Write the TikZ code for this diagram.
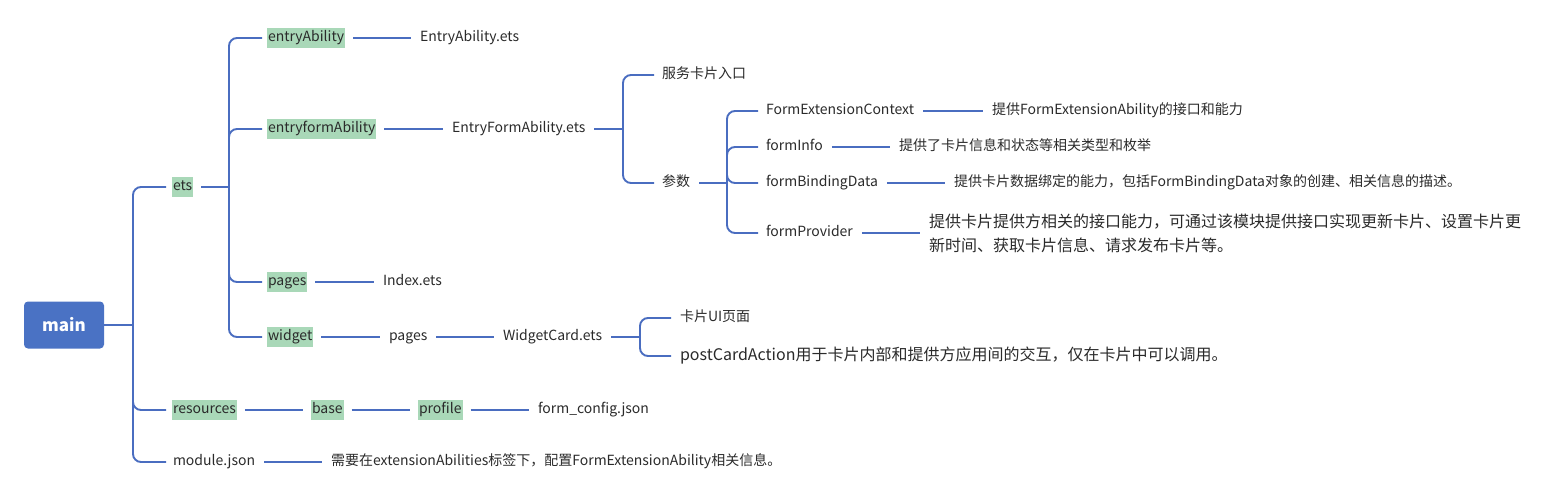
\documentclass[tikz,border=0pt]{standalone}
\usepackage{fontspec}
\setmainfont{Noto Sans CJK SC}
\definecolor{linkblue}{HTML}{4A6DC0}
\definecolor{mainblue}{HTML}{4A72C4}
\definecolor{taggreen}{HTML}{A9D8B8}
\definecolor{textgray}{HTML}{2A2A2A}
\tikzset{
    txt/.style={anchor=west,inner xsep=1pt,inner ysep=2.5pt,outer sep=0pt,text height=11pt,text depth=4pt,text=textgray,font=\fontsize{14}{16}\selectfont},
    tag/.style={txt,fill=taggreen},
    big/.style={txt,text height=,text depth=,font=\fontsize{16}{24}\selectfont},
    link/.style={draw=linkblue,line width=1.9pt,rounded corners=8pt},
    sib/.style={link,shorten <=8pt,shorten >=8pt},
}
\begin{document}
\begin{tikzpicture}[x=1pt,y=-1pt]
        \useasboundingbox (0,0) rectangle (1553,500);
        %% root
        \node[fill=mainblue,rounded corners=4pt,minimum width=80pt,minimum height=47pt,text=white,font=\fontsize{17}{20}\selectfont\bfseries] (main) at (64,325) {main};
        %% first level
        \node[tag] (ets) at (172,187) {ets};
        \node[tag] (resources) at (172,410) {resources};
        \node[txt] (module) at (172,462) {module.json};
        %% ets
        \node[tag] (entryAbility) at (267,38) {entryAbility};
        \node[txt] (entryAbilityEts) at (419,38) {EntryAbility.ets};
        \node[tag] (entryformAbility) at (267,129) {entryformAbility};
        \node[txt] (entryFormEts) at (451,129) {EntryFormAbility.ets};
        \node[tag] (pages) at (267,282) {pages};
        \node[txt] (indexEts) at (382,282) {Index.ets};
        \node[tag] (widget) at (267,337) {widget};
        \node[txt] (widgetPages) at (388,337) {pages};
        \node[txt] (widgetCard) at (502,337) {WidgetCard.ets};
        %% EntryFormAbility.ets
        \node[txt] (cardEntry) at (661,75) {服务卡片入口};
        \node[txt] (params) at (661,183) {参数};
        \node[txt] (formExtCtx) at (765,111) {FormExtensionContext};
        \node[txt] (formExtCtxTxt) at (991,111) {提供FormExtensionAbility的接口和能力};
        \node[txt] (formInfo) at (765,147) {formInfo};
        \node[txt] (formInfoTxt) at (898,147) {提供了卡片信息和状态等相关类型和枚举};
        \node[txt] (formBind) at (765,183) {formBindingData};
        \node[txt] (formBindTxt) at (953,183) {提供卡片数据绑定的能力，包括FormBindingData对象的创建、相关信息的描述。};
        \node[txt] (formProv) at (765,233) {formProvider};
        \node[big,align=left] (formProvTxt) at (928,233) {提供卡片提供方相关的接口能力，可通过该模块提供接口实现更新卡片、设置卡片更\\新时间、获取卡片信息、请求发布卡片等。};
        %% WidgetCard.ets
        \node[txt] (cardUI) at (679,318) {卡片UI页面};
        \node[big] (postCard) at (679,356) {postCardAction用于卡片内部和提供方应用间的交互，仅在卡片中可以调用。};
        %% resources, module.json
        \node[tag] (base) at (311,410) {base};
        \node[tag] (profile) at (418,410) {profile};
        \node[txt] (formConfig) at (537,410) {form\_config.json};
        \node[txt] (moduleTxt) at (330,462) {需要在extensionAbilities标签下，配置FormExtensionAbility相关信息。};
        %% branch points
        \coordinate (mainT) at (133,325);
        \coordinate (etsT) at (229,187);
        \coordinate (formT) at (623,129);
        \coordinate (paramsT) at (727,183);
        \coordinate (cardT) at (640,337);
        \draw[link] (main.east) -- (mainT);
        \draw[link,shorten <=8pt] (ets.east) -- (etsT);
        \draw[link,shorten <=8pt] (entryFormEts.east) -- (formT);
        \draw[link,shorten <=8pt] (params.east) -- (paramsT);
        \draw[link,shorten <=8pt] (widgetCard.east) -- (cardT);
        %% forks
        \foreach \c in {ets,resources,module}
            \draw[link,shorten >=6pt] (mainT) |- (\c.west);
        \foreach \c in {entryAbility,entryformAbility,pages,widget}
            \draw[link,shorten >=5pt] (etsT) |- (\c.west);
        \foreach \c in {cardEntry,params}
            \draw[link,shorten >=7pt] (formT) |- (\c.west);
        \foreach \c in {formExtCtx,formInfo,formBind,formProv}
            \draw[link,shorten >=7pt] (paramsT) |- (\c.west);
        \foreach \c in {cardUI,postCard}
            \draw[link,shorten >=8pt] (cardT) |- (\c.west);
        %% chains
        \foreach \a/\b in {entryAbility/entryAbilityEts,entryformAbility/entryFormEts,pages/indexEts,widget/widgetPages,widgetPages/widgetCard,resources/base,base/profile,profile/formConfig,module/moduleTxt,formExtCtx/formExtCtxTxt,formInfo/formInfoTxt,formBind/formBindTxt,formProv/formProvTxt}
            \draw[sib] (\a.east) -- (\b.west);
    \end{tikzpicture}
\end{document}
